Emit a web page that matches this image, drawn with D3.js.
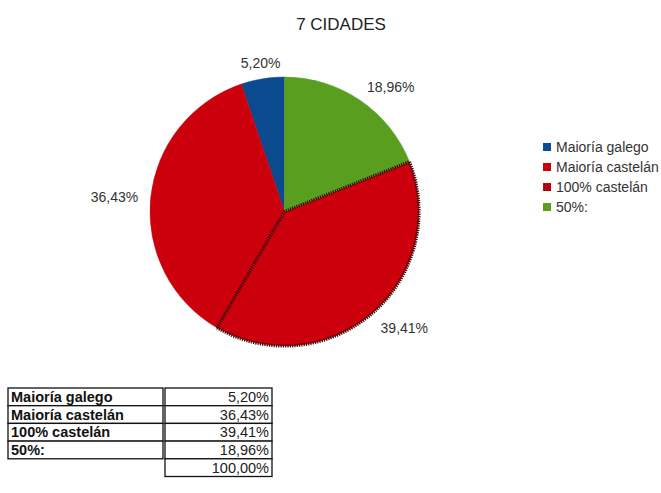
<!DOCTYPE html>
<html>
<head>
<meta charset="utf-8">
<script src="https://cdn.jsdelivr.net/npm/d3@7"></script>
<style>
  body { margin: 0; background: #fff; }
  svg text { font-family: "Liberation Sans", Arial, sans-serif; }
</style>
</head>
<body>
<svg id="chart" width="661" height="493"></svg>
<script>
//
// Data
//
var title = '7 CIDADES'
var categories = ['Maioría galego', 'Maioría castelán', '100% castelán', '50%:']
var values = [5.20, 36.43, 39.41, 18.96]
var totalLabel = '100,00%'
var colors = ['#0a4a8e', '#cc000c', '#cc000c', '#5a9e1f']
var dotted = [false, false, true, false]

//
// Setup
//
var svg = d3.select('#chart')
var cx = 284.5, cy = 211.5, radius = 134.5
var locale = d3.formatLocale({decimal: ',', thousands: '.', grouping: [3], currency: ['', '€']})
var fmt = locale.format('.2f')

var defs = svg.append('defs')
var pat = defs.append('pattern')
  .attr('id', 'hatch')
  .attr('width', 3).attr('height', 3)
  .attr('patternUnits', 'userSpaceOnUse')
pat.append('rect').attr('width', 3).attr('height', 3).attr('fill', '#cc000c')
pat.append('rect').attr('x', 1).attr('y', 1).attr('width', 1.2).attr('height', 1.2).attr('fill', '#3a0000')

// title
svg.append('text')
  .attr('x', 341).attr('y', 30)
  .attr('text-anchor', 'middle')
  .attr('font-size', 17)
  .attr('fill', '#222')
  .text(title)

//
// Pie (counter clockwise from 12 o'clock)
//
var data = categories.map(function(c, i) {
  return {name: c, value: values[i], color: colors[i], dotted: dotted[i]}
})

var pie = d3.pie()
  .sort(null)
  .startAngle(0)
  .endAngle(-2 * Math.PI)
  .value(function(d) { return d.value })

var arc = d3.arc().innerRadius(0).outerRadius(radius)
var arcs = pie(data)

var g = svg.append('g').attr('transform', 'translate(' + cx + ',' + cy + ')')

g.selectAll('path.slice')
  .data(arcs)
  .enter()
  .append('path')
  .attr('class', 'slice')
  .attr('d', arc)
  .attr('fill', function(d) { return d.data.color })
  .attr('stroke', function(d) { return d.data.color })
  .attr('stroke-width', 0.5)

g.selectAll('path.dots')
  .data(arcs.filter(function(d) { return d.data.dotted }))
  .enter()
  .append('path')
  .attr('class', 'dots')
  .attr('d', arc)
  .attr('fill', 'none')
  .attr('stroke', '#2a0c0c')
  .attr('stroke-width', 3.2)
  .attr('stroke-dasharray', '1.2 1.1')

// labels
var labelR = 147
g.selectAll('text.lbl')
  .data(arcs)
  .enter()
  .append('text')
  .attr('class', 'lbl')
  .attr('font-size', 14)
  .attr('fill', '#333')
  .each(function(d) {
    var a = (d.startAngle + d.endAngle) / 2
    var x = labelR * Math.sin(a), y = -labelR * Math.cos(a)
    var anchor = Math.abs(Math.sin(a)) < 0.2 ? 'middle' : (x > 0 ? 'start' : 'end')
    var dy = y < -radius * 0.9 ? 2 : (y > 0 ? 10 : 5)
    d3.select(this)
      .attr('x', x)
      .attr('y', y + dy)
      .attr('text-anchor', anchor)
      .text(fmt(d.data.value) + '%')
  })

//
// Legend
//
var legend = svg.append('g').attr('transform', 'translate(543,143)')
var row = legend.selectAll('g')
  .data(data)
  .enter()
  .append('g')
  .attr('transform', function(d, i) { return 'translate(0,' + (i * 20) + ')' })

row.append('rect')
  .attr('width', 8).attr('height', 8)
  .attr('fill', function(d) { return d.dotted ? 'url(#hatch)' : d.color })

row.append('text')
  .attr('x', 13).attr('y', 9)
  .attr('font-size', 14)
  .attr('fill', '#333')
  .text(function(d) { return d.name })

//
// Table
//
var tx = 8, ty = 388, rowH = 17.7, col1W = 155, col2X = 165, col2W = 107
var table = svg.append('g')

var trow = table.selectAll('g')
  .data(data)
  .enter()
  .append('g')
  .attr('transform', function(d, i) { return 'translate(0,' + (ty + i * rowH) + ')' })

trow.append('rect')
  .attr('x', tx).attr('width', col1W).attr('height', rowH)
  .attr('fill', '#fff').attr('stroke', '#111').attr('stroke-width', 1.3)
trow.append('rect')
  .attr('x', col2X).attr('width', col2W).attr('height', rowH)
  .attr('fill', '#fff').attr('stroke', '#111').attr('stroke-width', 1.3)
trow.append('text')
  .attr('x', tx + 3).attr('y', 14)
  .attr('font-size', 14.5).attr('font-weight', 'bold')
  .attr('fill', '#111')
  .text(function(d) { return d.name })
trow.append('text')
  .attr('x', col2X + col2W - 3).attr('y', 14)
  .attr('text-anchor', 'end')
  .attr('font-size', 14.5)
  .attr('fill', '#222')
  .text(function(d) { return fmt(d.value) + '%' })

var totalY = ty + data.length * rowH
table.append('rect')
  .attr('x', col2X).attr('y', totalY).attr('width', col2W).attr('height', rowH)
  .attr('fill', '#fff').attr('stroke', '#111').attr('stroke-width', 1.3)
table.append('text')
  .attr('x', col2X + col2W - 3).attr('y', totalY + 14)
  .attr('text-anchor', 'end')
  .attr('font-size', 14.5)
  .attr('fill', '#222')
  .text(totalLabel)
</script>
</body>
</html>
